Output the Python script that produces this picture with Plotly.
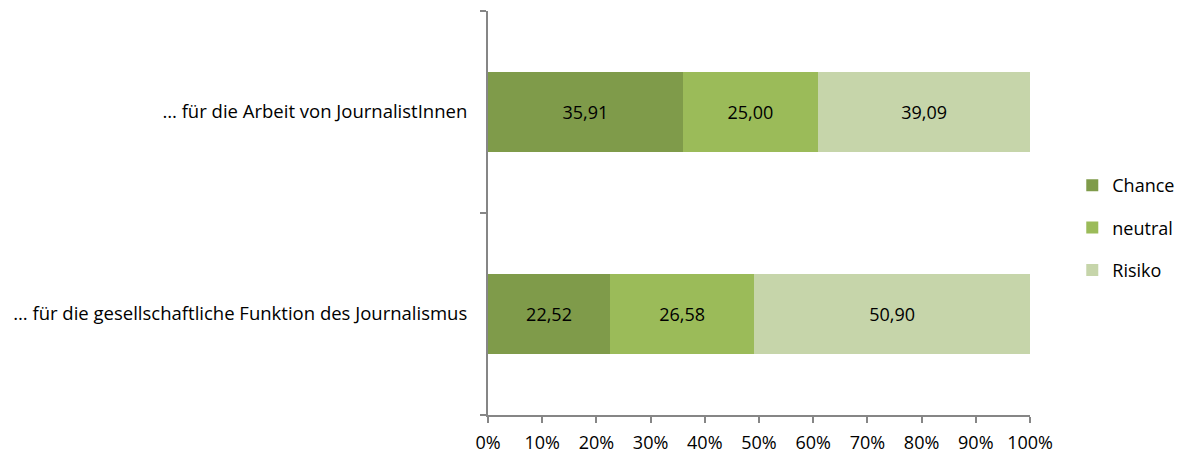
import plotly.graph_objects as go

categories = ["… für die gesellschaftliche Funktion des Journalismus",
              "… für die Arbeit von JournalistInnen"]
chance = [22.52, 35.91]
neutral = [26.58, 25.00]
risiko = [50.90, 39.09]
series_names = ["Chance", "neutral", "Risiko"]
colors = ["#7F9B4A", "#9BBB59", "#C6D5AA"]
x_ticks = [0, 10, 20, 30, 40, 50, 60, 70, 80, 90, 100]

FONT = "Open Sans"

fig = go.Figure()
for name, vals, col in zip(series_names, [chance, neutral, risiko], colors):
    fig.add_trace(go.Bar(
        y=categories, x=vals, name=name, orientation="h",
        legendgroup=name,
        marker=dict(color=col, line=dict(width=0)),
        width=0.4,
        text=vals, texttemplate="%{x:.2f}", textposition="inside",
        insidetextanchor="middle",
        textfont=dict(color="black", size=18, family=FONT),
    ))

fig.update_layout(
    barmode="stack",
    width=1183, height=455,
    margin=dict(l=488, r=153, t=11, b=40, autoexpand=False),
    plot_bgcolor="white", paper_bgcolor="white",
    separators=",.",
    font=dict(family=FONT, size=18, color="black"),
    showlegend=True,
    legend=dict(x=1.078, y=0.463, xanchor="left", yanchor="middle",
                traceorder="grouped", font=dict(size=18),
                itemwidth=30, tracegroupgap=16),
    uniformtext=dict(mode="show", minsize=18),
)
fig.update_xaxes(range=[0, 100], tickvals=x_ticks,
                 ticktext=[f"{v}%" for v in x_ticks],
                 showgrid=False, zeroline=False,
                 showline=True, linecolor="#868686", linewidth=2,
                 ticks="outside", ticklen=6, tickcolor="#868686", tickwidth=2,
                 ticklabelstandoff=4,
                 tickfont=dict(size=18))
fig.update_yaxes(showgrid=False, zeroline=False,
                 showline=True, linecolor="#868686", linewidth=2,
                 ticks="outside", ticklen=6, tickcolor="#868686", tickwidth=2,
                 tickson="boundaries", ticklabelstandoff=15,
                 tickfont=dict(size=18.5))

fig.write_html("out.html")
